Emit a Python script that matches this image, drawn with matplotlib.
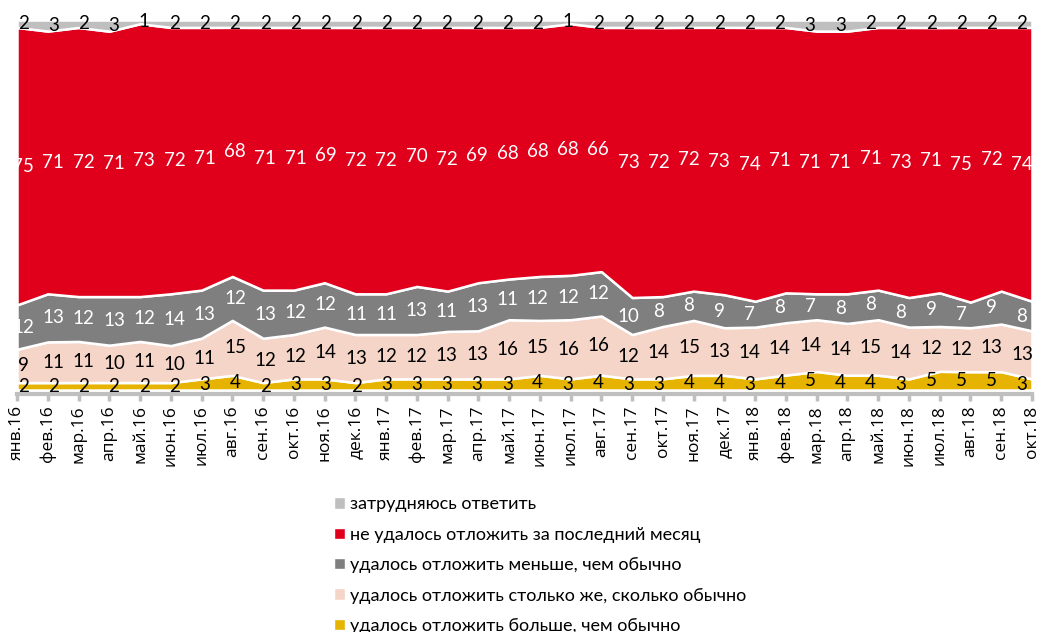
import numpy as np
import matplotlib.pyplot as plt
from matplotlib.patches import Patch

plt.rcParams['font.family'] = ['Lato', 'DejaVu Sans']

months = ['янв.16', 'фев.16', 'мар.16', 'апр.16', 'май.16', 'июн.16', 'июл.16', 'авг.16',
          'сен.16', 'окт.16', 'ноя.16', 'дек.16', 'янв.17', 'фев.17', 'мар.17', 'апр.17',
          'май.17', 'июн.17', 'июл.17', 'авг.17', 'сен.17', 'окт.17', 'ноя.17', 'дек.17',
          'янв.18', 'фев.18', 'мар.18', 'апр.18', 'май.18', 'июн.18', 'июл.18', 'авг.18',
          'сен.18', 'окт.18']

# bottom to top
more = [2, 2, 2, 2, 2, 2, 3, 4, 2, 3, 3, 2, 3, 3, 3, 3, 3, 4, 3, 4, 3, 3, 4, 4, 3, 4, 5, 4, 4, 3, 5, 5, 5, 3]
same = [9, 11, 11, 10, 11, 10, 11, 15, 12, 12, 14, 13, 12, 12, 13, 13, 16, 15, 16, 16, 12, 14, 15, 13, 14, 14, 14, 14, 15, 14, 12, 12, 13, 13]
less = [12, 13, 12, 13, 12, 14, 13, 12, 13, 12, 12, 11, 11, 13, 11, 13, 11, 12, 12, 12, 10, 8, 8, 9, 7, 8, 7, 8, 8, 8, 9, 7, 9, 8]
none = [75, 71, 72, 71, 73, 72, 71, 68, 71, 71, 69, 72, 72, 70, 72, 69, 68, 68, 68, 66, 73, 72, 72, 73, 74, 71, 71, 71, 71, 73, 71, 75, 72, 74]
hard = [2, 3, 2, 3, 1, 2, 2, 2, 2, 2, 2, 2, 2, 2, 2, 2, 2, 2, 1, 2, 2, 2, 2, 2, 2, 2, 3, 3, 2, 2, 2, 2, 2, 2]

names = ['удалось отложить больше, чем обычно',
         'удалось отложить столько же, сколько обычно',
         'удалось отложить меньше, чем обычно',
         'не удалось отложить за последний месяц',
         'затрудняюсь ответить']
colors = ['#E6B400', '#F5D5C8', '#7F7F7F', '#E0001B', '#BFBFBF']
text_colors = ['black', 'black', 'white', 'white', 'black']

series = np.array([more, same, less, none, hard], dtype=float)
shares = series / series.sum(axis=0) * 100  # chart is drawn as 100% stacked
x = np.arange(len(months))

fig = plt.figure(figsize=(10.58, 6.32), dpi=100)
ax = fig.add_axes([17 / 1058, 1 - 390 / 632, (1032 - 17) / 1058, 370 / 632])

ax.stackplot(x, shares, colors=colors, edgecolor='white', linewidth=1.8)

# value labels in the middle of each band (labels sit a bit right of the point at the start,
# a bit left at the end)
lx = 0.2 + 0.984 * x
tops = np.cumsum(shares, axis=0)
for k in range(len(series)):
    mids = tops[k] - shares[k] / 2
    for i in x:
        ax.text(lx[i], mids[i], str(int(series[k][i])), ha='center', va='center',
                fontsize=13.5, color=text_colors[k], clip_on=False)

ax.set_xlim(0, len(months) - 1)
ax.set_ylim(0, 100)
ax.set_yticks([])
for side in ['top', 'right', 'left']:
    ax.spines[side].set_visible(False)
ax.spines['bottom'].set_color('#BFBFBF')
ax.spines['bottom'].set_linewidth(3)
ax.spines['bottom'].set_position(('outward', 3))
ax.set_xticks(x)
ax.set_xticklabels(months, rotation=90, fontsize=12.5, family=['Open Sans', 'DejaVu Sans'])
ax.tick_params(axis='x', length=5, width=2.5, color='#BFBFBF', pad=3)

handles = [Patch(facecolor=colors[k], edgecolor='white', label=names[k]) for k in range(4, -1, -1)]
fig.legend(handles=handles, loc='upper left', bbox_to_anchor=(327 / 1058, 1 - 489 / 632),
           frameon=False, fontsize=13, handlelength=0.6, handleheight=0.6,
           handletextpad=0.3, labelspacing=0.8, borderaxespad=0)

fig.savefig('out.png', dpi=100)
